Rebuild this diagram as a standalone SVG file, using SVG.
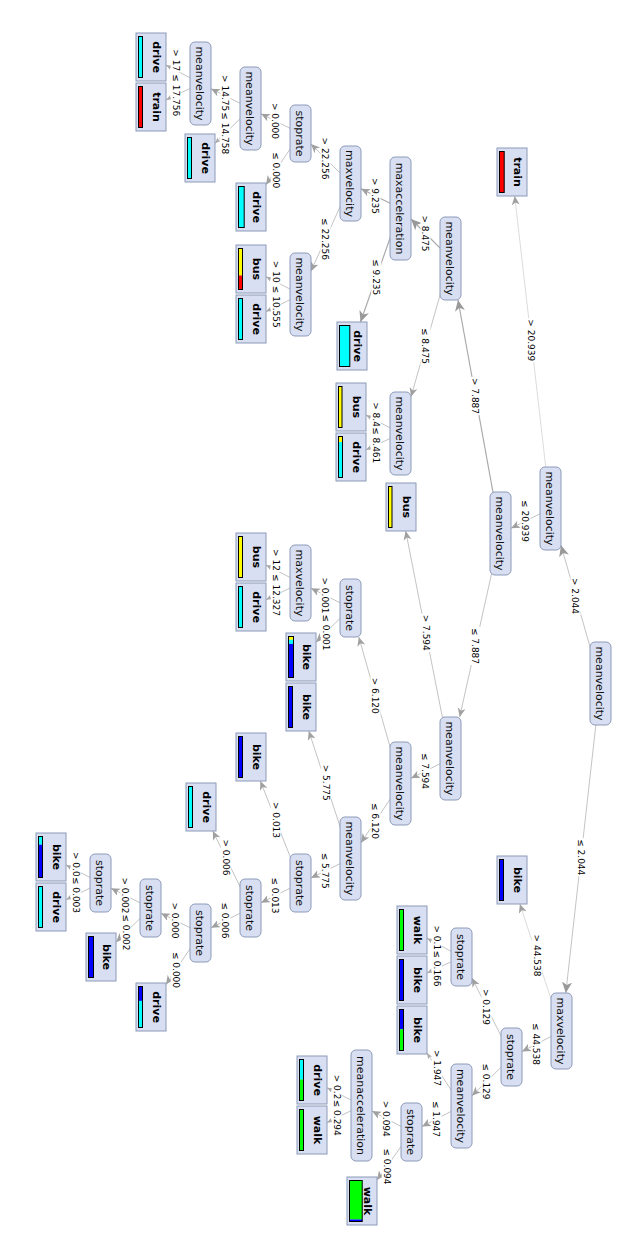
<svg xmlns="http://www.w3.org/2000/svg" width="630" height="1260" viewBox="0 0 630 1260">
<defs>
<style>
.n rect{fill:#d8dff2;stroke:#8c9ab8;stroke-width:1}
.n text{font-family:"DejaVu Sans",sans-serif;font-size:11px;fill:#111;text-anchor:middle}
.lf .box{fill:#d8dff2;stroke:#8c9ab8;stroke-width:1}
.lf .bo{fill:none;stroke:#000;stroke-width:1}
.lf text{font-family:"DejaVu Sans",sans-serif;font-size:11px;font-weight:bold;fill:#000;text-anchor:middle}
.e line{stroke:#c4c4c4;stroke-width:1;fill:none}
.e line.h{stroke:#a8a8a8;stroke-width:1.15}
.e line.f{stroke:#dcdcdc}
.lb rect{fill:#fff}
.lb text{font-family:"DejaVu Sans",sans-serif;font-size:9px;fill:#000;text-anchor:middle}
.lb text.s{text-anchor:start}
.bk{fill:#0000ff}.bu{fill:#ffff00}.dr{fill:#00ffff}.tr{fill:#ff0000}.wa{fill:#00ff00}
</style>
<marker id="mL" markerUnits="userSpaceOnUse" markerWidth="12" markerHeight="11" refX="11" refY="5" orient="auto"><path d="M0,0 L11,5 L0,10 L3,5 z" fill="#999"/></marker>
<marker id="mM" markerUnits="userSpaceOnUse" markerWidth="10" markerHeight="9" refX="9" refY="4" orient="auto"><path d="M0,0 L9,4 L0,8 L2.5,4 z" fill="#a0a0a0"/></marker>
<marker id="mS" markerUnits="userSpaceOnUse" markerWidth="7" markerHeight="6" refX="6" refY="2.5" orient="auto"><path d="M0,0 L6,2.5 L0,5 L1.5,2.5 z" fill="#aaa"/></marker>
</defs>
<g transform="translate(630,0) rotate(90)">
<g id="connectors" class="e">
<line x1="683.5" y1="29.5" x2="545.25" y2="69" marker-end="url(#mL)"/>
<line x1="683.5" y1="29.5" x2="993" y2="64.2" marker-end="url(#mL)"/>
<line class="f" x1="508.5" y1="79.5" x2="196" y2="115.3" marker-end="url(#mM)"/>
<line x1="508.5" y1="79.5" x2="528.25" y2="119" marker-end="url(#mM)"/>
<line class="h" x1="533.5" y1="129.5" x2="300" y2="172" marker-end="url(#mL)"/>
<line x1="533.5" y1="129.5" x2="717" y2="170.3" marker-end="url(#mM)"/>
<line class="h" x1="258.5" y1="179.5" x2="219" y2="219" marker-end="url(#mL)"/>
<line x1="258.5" y1="179.5" x2="396.75" y2="219" marker-end="url(#mM)"/>
<line class="h" x1="208.5" y1="229.5" x2="188.75" y2="269" marker-end="url(#mM)"/>
<line class="h" x1="208.5" y1="229.5" x2="322" y2="269.5" marker-end="url(#mL)"/>
<line x1="183.5" y1="279.5" x2="144" y2="319" marker-end="url(#mM)"/>
<line x1="183.5" y1="279.5" x2="271.2" y2="319" marker-end="url(#mM)"/>
<line x1="133.5" y1="329.5" x2="113.75" y2="369" marker-end="url(#mM)"/>
<line x1="133.5" y1="329.5" x2="184.7" y2="364" marker-end="url(#mM)"/>
<line x1="108.5" y1="379.5" x2="88.75" y2="419" marker-end="url(#mM)"/>
<line x1="108.5" y1="379.5" x2="143.3" y2="415" marker-end="url(#mS)"/>
<line x1="83.5" y1="429.5" x2="65" y2="464" marker-end="url(#mS)"/>
<line x1="83.5" y1="429.5" x2="99.9" y2="464" marker-end="url(#mS)"/>
<line x1="294.5" y1="329.5" x2="276.7" y2="364" marker-end="url(#mS)"/>
<line x1="294.5" y1="329.5" x2="311.6" y2="364" marker-end="url(#mS)"/>
<line x1="433.5" y1="229.5" x2="415" y2="264" marker-end="url(#mS)"/>
<line x1="433.5" y1="229.5" x2="449.9" y2="264" marker-end="url(#mS)"/>
<line x1="758.5" y1="179.5" x2="531" y2="224.3" marker-end="url(#mM)"/>
<line x1="758.5" y1="179.5" x2="778.25" y2="219" marker-end="url(#mM)"/>
<line x1="783.5" y1="229.5" x2="637" y2="271.2" marker-end="url(#mM)"/>
<line x1="783.5" y1="229.5" x2="842.75" y2="269" marker-end="url(#mM)"/>
<line x1="608" y1="279.5" x2="588.25" y2="319" marker-end="url(#mM)"/>
<line x1="608" y1="279.5" x2="642.2" y2="314" marker-end="url(#mM)"/>
<line x1="583" y1="329.5" x2="564.9" y2="364" marker-end="url(#mS)"/>
<line x1="583" y1="329.5" x2="599.7" y2="364" marker-end="url(#mS)"/>
<line x1="858.5" y1="279.5" x2="731" y2="321.2" marker-end="url(#mM)"/>
<line x1="858.5" y1="279.5" x2="877.9" y2="319" marker-end="url(#mM)"/>
<line x1="883" y1="329.5" x2="781" y2="369.6" marker-end="url(#mM)"/>
<line x1="883" y1="329.5" x2="902.75" y2="369" marker-end="url(#mM)"/>
<line x1="908" y1="379.5" x2="831" y2="417.2" marker-end="url(#mM)"/>
<line x1="908" y1="379.5" x2="927.75" y2="419" marker-end="url(#mM)"/>
<line x1="933" y1="429.5" x2="913.25" y2="469" marker-end="url(#mM)"/>
<line x1="933" y1="429.5" x2="984.6" y2="464" marker-end="url(#mM)"/>
<line x1="908" y1="479.5" x2="888.25" y2="519" marker-end="url(#mM)"/>
<line x1="908" y1="479.5" x2="942.2" y2="514" marker-end="url(#mM)"/>
<line x1="883" y1="529.5" x2="864.9" y2="564" marker-end="url(#mS)"/>
<line x1="883" y1="529.5" x2="899.7" y2="564" marker-end="url(#mS)"/>
<line class="f" x1="1031" y1="68.5" x2="904" y2="110.1" marker-end="url(#mM)"/>
<line x1="1031" y1="68.5" x2="1051.5" y2="108" marker-end="url(#mM)"/>
<line x1="1057" y1="118.5" x2="978" y2="158" marker-end="url(#mM)"/>
<line x1="1057" y1="118.5" x2="1095.7" y2="158" marker-end="url(#mM)"/>
<line x1="957" y1="168.5" x2="938.2" y2="203" marker-end="url(#mS)"/>
<line x1="957" y1="168.5" x2="973" y2="203" marker-end="url(#mS)"/>
<line x1="1106" y1="168.5" x2="1053" y2="203" marker-end="url(#mS)"/>
<line x1="1106" y1="168.5" x2="1126.5" y2="208" marker-end="url(#mM)"/>
<line x1="1132" y1="218.5" x2="1111.1" y2="258" marker-end="url(#mM)"/>
<line x1="1132" y1="218.5" x2="1180.1" y2="253" marker-end="url(#mM)"/>
<line x1="1105.5" y1="268.5" x2="1087.7" y2="303" marker-end="url(#mS)"/>
<line x1="1105.5" y1="268.5" x2="1122.6" y2="303" marker-end="url(#mS)"/>
<g class="lb">
<rect x="576.9" y="49.5" width="38.2" height="10"/><text x="596" y="57.7">&gt; 2.044</text>
<rect x="838.15" y="44" width="38.2" height="10"/><text x="857.25" y="52.2">≤ 2.044</text>
<rect x="318.3" y="93.75" width="43.9" height="10"/><text x="340.25" y="101.95">&gt; 20.939</text>
<rect x="499.05" y="99.5" width="43.9" height="10"/><text x="521" y="107.7">≤ 20.939</text>
<rect x="376.9" y="149.5" width="38.2" height="10"/><text x="396" y="157.7">&gt; 7.887</text>
<rect x="626.9" y="149.5" width="38.2" height="10"/><text x="646" y="157.7">≤ 7.887</text>
<rect x="214.4" y="199.5" width="38.2" height="10"/><text x="233.5" y="207.7">&gt; 8.475</text>
<rect x="326.9" y="199.5" width="38.2" height="10"/><text x="346" y="207.7">≤ 8.475</text>
<rect x="176.9" y="249.5" width="38.2" height="10"/><text x="196" y="257.7">&gt; 9.235</text>
<rect x="258.15" y="248.75" width="38.2" height="10"/><text x="277.25" y="256.95">≤ 9.235</text>
<rect x="136.55" y="299.5" width="43.9" height="10"/><text x="158.5" y="307.7">&gt; 22.256</text>
<rect x="217.05" y="299.5" width="43.9" height="10"/><text x="239" y="307.7">≤ 22.256</text>
<rect x="101.9" y="349.5" width="38.2" height="10"/><text x="121" y="357.7">&gt; 0.000</text>
<rect x="151.15" y="349.25" width="38.2" height="10"/><text x="170.25" y="357.45">≤ 0.000</text>
<rect x="74.05" y="399.5" width="38.2" height="10"/><text class="s" x="75.05" y="407.7">&gt; 14.75</text>
<rect x="111.3" y="399.75" width="43.9" height="10"/><text x="133.25" y="407.95">≤ 14.758</text>
<rect x="48.3" y="449.25" width="23.9" height="10"/><text class="s" x="49.3" y="457.45">&gt; 17</text>
<rect x="73.3" y="449.25" width="43.9" height="10"/><text x="95.25" y="457.45">≤ 17.756</text>
<rect x="259.8" y="349.25" width="23.9" height="10"/><text class="s" x="260.8" y="357.45">&gt; 10</text>
<rect x="284.8" y="349.25" width="43.9" height="10"/><text x="306.75" y="357.45">≤ 10.555</text>
<rect x="401.15" y="249.25" width="26.7" height="10"/><text class="s" x="402.15" y="257.45">&gt; 8.4</text>
<rect x="426.15" y="249.25" width="38.2" height="10"/><text x="445.25" y="257.45">≤ 8.461</text>
<rect x="613.65" y="199.25" width="38.2" height="10"/><text x="632.75" y="207.45">&gt; 7.594</text>
<rect x="751.9" y="199.5" width="38.2" height="10"/><text x="771" y="207.7">≤ 7.594</text>
<rect x="676.65" y="249.5" width="38.2" height="10"/><text x="695.75" y="257.7">&gt; 6.120</text>
<rect x="801.9" y="249.5" width="38.2" height="10"/><text x="821" y="257.7">≤ 6.120</text>
<rect x="576.4" y="299.5" width="38.2" height="10"/><text x="595.5" y="307.7">&gt; 0.001</text>
<rect x="613.4" y="299.25" width="38.2" height="10"/><text x="632.5" y="307.45">≤ 0.001</text>
<rect x="548.05" y="349.25" width="23.9" height="10"/><text class="s" x="549.05" y="357.45">&gt; 12</text>
<rect x="573.05" y="349.25" width="43.9" height="10"/><text x="595" y="357.45">≤ 12.327</text>
<rect x="763.65" y="299.25" width="38.2" height="10"/><text x="782.75" y="307.45">&gt; 5.775</text>
<rect x="851.65" y="299.5" width="38.2" height="10"/><text x="870.75" y="307.7">≤ 5.775</text>
<rect x="800.9" y="349.25" width="38.2" height="10"/><text x="820" y="357.45">&gt; 0.013</text>
<rect x="876.4" y="349.5" width="38.2" height="10"/><text x="895.5" y="357.7">≤ 0.013</text>
<rect x="838.4" y="399.25" width="38.2" height="10"/><text x="857.5" y="407.45">&gt; 0.006</text>
<rect x="901.4" y="399.5" width="38.2" height="10"/><text x="920.5" y="407.7">≤ 0.006</text>
<rect x="901.4" y="449.5" width="38.2" height="10"/><text x="920.5" y="457.7">&gt; 0.000</text>
<rect x="950.9" y="449.25" width="38.2" height="10"/><text x="970" y="457.45">≤ 0.000</text>
<rect x="876.4" y="499.5" width="38.2" height="10"/><text x="895.5" y="507.7">&gt; 0.002</text>
<rect x="913.4" y="499.25" width="38.2" height="10"/><text x="932.5" y="507.45">≤ 0.002</text>
<rect x="850.9" y="549.25" width="26.7" height="10"/><text class="s" x="851.9" y="557.45">&gt; 0.0</text>
<rect x="875.9" y="549.25" width="38.2" height="10"/><text x="895" y="557.45">≤ 0.003</text>
<rect x="933.55" y="88.25" width="43.9" height="10"/><text x="955.5" y="96.45">&gt; 44.538</text>
<rect x="1022.05" y="88.5" width="43.9" height="10"/><text x="1044" y="96.7">≤ 44.538</text>
<rect x="987.9" y="138.5" width="38.2" height="10"/><text x="1007" y="146.7">&gt; 0.129</text>
<rect x="1062.4" y="138.5" width="38.2" height="10"/><text x="1081.5" y="146.7">≤ 0.129</text>
<rect x="924.4" y="188.25" width="26.7" height="10"/><text class="s" x="925.4" y="196.45">&gt; 0.1</text>
<rect x="949.4" y="188.25" width="38.2" height="10"/><text x="968.5" y="196.45">≤ 0.166</text>
<rect x="1048.9" y="188.25" width="38.2" height="10"/><text x="1068" y="196.45">&gt; 1.947</text>
<rect x="1099.9" y="188.5" width="38.2" height="10"/><text x="1119" y="196.7">≤ 1.947</text>
<rect x="1099.65" y="238.5" width="38.2" height="10"/><text x="1118.75" y="246.7">&gt; 0.094</text>
<rect x="1147.4" y="238.25" width="38.2" height="10"/><text x="1166.5" y="246.45">≤ 0.094</text>
<rect x="1073.65" y="288.25" width="26.7" height="10"/><text class="s" x="1074.65" y="296.45">&gt; 0.2</text>
<rect x="1098.65" y="288.25" width="38.2" height="10"/><text x="1117.75" y="296.45">≤ 0.294</text>
</g>
</g>
<g id="n0" class="n"><rect x="642" y="19" width="83" height="21" rx="5"/><text x="683.5" y="34">meanvelocity</text></g>
<g id="n1" class="n"><rect x="467" y="69" width="83" height="21" rx="5"/><text x="508.5" y="84">meanvelocity</text></g>
<g id="n2" class="n"><rect x="492" y="119" width="83" height="21" rx="5"/><text x="533.5" y="134">meanvelocity</text></g>
<g id="n3" class="n"><rect x="217" y="169" width="83" height="21" rx="5"/><text x="258.5" y="184">meanvelocity</text></g>
<g id="n4" class="n"><rect x="157" y="219" width="103" height="21" rx="5"/><text x="208.5" y="234">maxacceleration</text></g>
<g id="n5" class="n"><rect x="146" y="269" width="75" height="21" rx="5"/><text x="183.5" y="284">maxvelocity</text></g>
<g id="n6" class="n"><rect x="105" y="319" width="57" height="21" rx="5"/><text x="133.5" y="334">stoprate</text></g>
<g id="n7" class="n"><rect x="67" y="369" width="83" height="21" rx="5"/><text x="108.5" y="384">meanvelocity</text></g>
<g id="n8" class="n"><rect x="42" y="419" width="83" height="21" rx="5"/><text x="83.5" y="434">meanvelocity</text></g>
<g id="n9" class="n"><rect x="253" y="319" width="83" height="21" rx="5"/><text x="294.5" y="334">meanvelocity</text></g>
<g id="n10" class="n"><rect x="392" y="219" width="83" height="21" rx="5"/><text x="433.5" y="234">meanvelocity</text></g>
<g id="n11" class="n"><rect x="717" y="169" width="83" height="21" rx="5"/><text x="758.5" y="184">meanvelocity</text></g>
<g id="n12" class="n"><rect x="742" y="219" width="83" height="21" rx="5"/><text x="783.5" y="234">meanvelocity</text></g>
<g id="n13" class="n"><rect x="579" y="269" width="58" height="21" rx="5"/><text x="608" y="284">stoprate</text></g>
<g id="n14" class="n"><rect x="545" y="319" width="76" height="21" rx="5"/><text x="583" y="334">maxvelocity</text></g>
<g id="n15" class="n"><rect x="817" y="269" width="83" height="21" rx="5"/><text x="858.5" y="284">meanvelocity</text></g>
<g id="n16" class="n"><rect x="854" y="319" width="58" height="21" rx="5"/><text x="883" y="334">stoprate</text></g>
<g id="n17" class="n"><rect x="879" y="369" width="58" height="21" rx="5"/><text x="908" y="384">stoprate</text></g>
<g id="n18" class="n"><rect x="904" y="419" width="58" height="21" rx="5"/><text x="933" y="434">stoprate</text></g>
<g id="n19" class="n"><rect x="879" y="469" width="58" height="21" rx="5"/><text x="908" y="484">stoprate</text></g>
<g id="n20" class="n"><rect x="854" y="519" width="58" height="21" rx="5"/><text x="883" y="534">stoprate</text></g>
<g id="n21" class="n"><rect x="993" y="58" width="76" height="21" rx="5"/><text x="1031" y="73">maxvelocity</text></g>
<g id="n22" class="n"><rect x="1028" y="108" width="58" height="21" rx="5"/><text x="1057" y="123">stoprate</text></g>
<g id="n23" class="n"><rect x="928" y="158" width="58" height="21" rx="5"/><text x="957" y="173">stoprate</text></g>
<g id="n24" class="n"><rect x="1064" y="158" width="84" height="21" rx="5"/><text x="1106" y="173">meanvelocity</text></g>
<g id="n25" class="n"><rect x="1103" y="208" width="58" height="21" rx="5"/><text x="1132" y="223">stoprate</text></g>
<g id="n26" class="n"><rect x="1050" y="258" width="111" height="21" rx="5"/><text x="1105.5" y="273">meanacceleration</text></g>
<g id="l1" class="lf"><rect class="box" x="148" y="103" width="48" height="30"/><rect class="tr" x="151.5" y="125.8" width="41" height="4.7"/><rect class="bo" x="151.5" y="125.8" width="41" height="4.7"/><text x="172" y="116.2">train</text></g>
<g id="l2" class="lf"><rect class="box" x="33" y="464" width="48" height="30"/><rect class="dr" x="36.5" y="487.5" width="41" height="4"/><rect class="bo" x="36.5" y="487.5" width="41" height="4"/><text x="57" y="477.2">drive</text></g>
<g id="l3" class="lf"><rect class="box" x="83" y="464" width="48" height="30"/><rect class="tr" x="86.5" y="487.5" width="41" height="4"/><rect class="bo" x="86.5" y="487.5" width="41" height="4"/><text x="107" y="477.2">train</text></g>
<g id="l4" class="lf"><rect class="box" x="134" y="415" width="48" height="30"/><rect class="dr" x="137.5" y="438.5" width="41" height="4"/><rect class="bo" x="137.5" y="438.5" width="41" height="4"/><text x="158" y="428.2">drive</text></g>
<g id="l5" class="lf"><rect class="box" x="183" y="364" width="48" height="30"/><rect class="dr" x="186.5" y="385.8" width="41" height="5.7"/><rect class="bo" x="186.5" y="385.8" width="41" height="5.7"/><text x="207" y="377.2">drive</text></g>
<g id="l6" class="lf"><rect class="box" x="245" y="364" width="48" height="30"/><rect class="bu" x="248.5" y="387.5" width="27" height="4"/><rect class="tr" x="275.5" y="387.5" width="14" height="4"/><rect class="bo" x="248.5" y="387.5" width="41" height="4"/><text x="269" y="377.2">bus</text></g>
<g id="l7" class="lf"><rect class="box" x="295" y="364" width="48" height="30"/><rect class="dr" x="298.5" y="387.5" width="41" height="4"/><rect class="bo" x="298.5" y="387.5" width="41" height="4"/><text x="319" y="377.2">drive</text></g>
<g id="l8" class="lf"><rect class="box" x="322" y="263" width="48" height="30"/><rect class="dr" x="325.5" y="280.2" width="41" height="10.3"/><rect class="bo" x="325.5" y="280.2" width="41" height="10.3"/><text x="346" y="276.2">drive</text></g>
<g id="l9" class="lf"><rect class="box" x="383" y="264" width="48" height="30"/><rect class="bu" x="386.5" y="288" width="41" height="3.5"/><rect class="bo" x="386.5" y="288" width="41" height="3.5"/><text x="407" y="277.2">bus</text></g>
<g id="l10" class="lf"><rect class="box" x="433" y="264" width="48" height="30"/><rect class="bu" x="436.5" y="287.5" width="5.5" height="4"/><rect class="dr" x="442" y="287.5" width="35.5" height="4"/><rect class="bo" x="436.5" y="287.5" width="41" height="4"/><text x="457" y="277.2">drive</text></g>
<g id="l11" class="lf"><rect class="box" x="483" y="214" width="48" height="30"/><rect class="bu" x="486.5" y="238" width="41" height="3.5"/><rect class="bo" x="486.5" y="238" width="41" height="3.5"/><text x="507" y="227.2">bus</text></g>
<g id="l12" class="lf"><rect class="box" x="533" y="364" width="48" height="30"/><rect class="bu" x="536.5" y="387.5" width="41" height="4"/><rect class="bo" x="536.5" y="387.5" width="41" height="4"/><text x="557" y="377.2">bus</text></g>
<g id="l13" class="lf"><rect class="box" x="583" y="364" width="48" height="30"/><rect class="dr" x="586.5" y="387.5" width="41" height="4"/><rect class="bo" x="586.5" y="387.5" width="41" height="4"/><text x="607" y="377.2">drive</text></g>
<g id="l14" class="lf"><rect class="box" x="633" y="314" width="48" height="30"/><rect class="bu" x="636.5" y="336.5" width="3.3" height="5"/><rect class="dr" x="639.8" y="336.5" width="4.1" height="5"/><rect class="bk" x="643.9" y="336.5" width="33.6" height="5"/><rect class="bo" x="636.5" y="336.5" width="41" height="5"/><text x="657" y="327.2">bike</text></g>
<g id="l15" class="lf"><rect class="box" x="683" y="314" width="48" height="30"/><rect class="bk" x="686.5" y="337.5" width="41" height="4"/><rect class="bo" x="686.5" y="337.5" width="41" height="4"/><text x="707" y="327.2">bike</text></g>
<g id="l16" class="lf"><rect class="box" x="733" y="364" width="48" height="30"/><rect class="bk" x="736.5" y="387.5" width="41" height="4"/><rect class="bo" x="736.5" y="387.5" width="41" height="4"/><text x="757" y="377.2">bike</text></g>
<g id="l17" class="lf"><rect class="box" x="783" y="414" width="48" height="30"/><rect class="dr" x="786.5" y="437.5" width="41" height="4"/><rect class="bo" x="786.5" y="437.5" width="41" height="4"/><text x="807" y="427.2">drive</text></g>
<g id="l18" class="lf"><rect class="box" x="833" y="564" width="48" height="30"/><rect class="dr" x="836.5" y="587.5" width="8.2" height="4"/><rect class="bk" x="844.7" y="587.5" width="32.8" height="4"/><rect class="bo" x="836.5" y="587.5" width="41" height="4"/><text x="857" y="577.2">bike</text></g>
<g id="l19" class="lf"><rect class="box" x="883" y="564" width="48" height="30"/><rect class="dr" x="886.5" y="587.5" width="41" height="4"/><rect class="bo" x="886.5" y="587.5" width="41" height="4"/><text x="907" y="577.2">drive</text></g>
<g id="l20" class="lf"><rect class="box" x="933" y="514" width="48" height="30"/><rect class="bk" x="936.5" y="536.5" width="41" height="5"/><rect class="bo" x="936.5" y="536.5" width="41" height="5"/><text x="957" y="527.2">bike</text></g>
<g id="l21" class="lf"><rect class="box" x="983" y="464" width="48" height="30"/><rect class="bk" x="986.5" y="487.5" width="14.4" height="4"/><rect class="dr" x="1000.9" y="487.5" width="26.6" height="4"/><rect class="bo" x="986.5" y="487.5" width="41" height="4"/><text x="1007" y="477.2">drive</text></g>
<g id="l22" class="lf"><rect class="box" x="856" y="103" width="48" height="30"/><rect class="bk" x="859.5" y="126.5" width="41" height="4"/><rect class="bo" x="859.5" y="126.5" width="41" height="4"/><text x="880" y="116.2">bike</text></g>
<g id="l23" class="lf"><rect class="box" x="906" y="203" width="48" height="30"/><rect class="wa" x="909.5" y="226.5" width="41" height="4"/><rect class="bo" x="909.5" y="226.5" width="41" height="4"/><text x="930" y="216.2">walk</text></g>
<g id="l24" class="lf"><rect class="box" x="956" y="203" width="48" height="30"/><rect class="bk" x="959.5" y="226.5" width="41" height="4"/><rect class="bo" x="959.5" y="226.5" width="41" height="4"/><text x="980" y="216.2">bike</text></g>
<g id="l25" class="lf"><rect class="box" x="1006" y="203" width="48" height="30"/><rect class="bk" x="1009.5" y="226.5" width="19.7" height="4"/><rect class="wa" x="1029.2" y="226.5" width="21.3" height="4"/><rect class="bo" x="1009.5" y="226.5" width="41" height="4"/><text x="1030" y="216.2">bike</text></g>
<g id="l26" class="lf"><rect class="box" x="1056" y="303" width="48" height="30"/><rect class="dr" x="1059.5" y="326.5" width="20" height="4"/><rect class="wa" x="1079.5" y="326.5" width="21" height="4"/><rect class="bo" x="1059.5" y="326.5" width="41" height="4"/><text x="1080" y="316.2">drive</text></g>
<g id="l27" class="lf"><rect class="box" x="1106" y="303" width="48" height="30"/><rect class="wa" x="1109.5" y="326.5" width="41" height="4"/><rect class="bo" x="1109.5" y="326.5" width="41" height="4"/><text x="1130" y="316.2">walk</text></g>
<g id="l28" class="lf"><rect class="box" x="1177" y="253" width="48" height="30"/><rect class="wa" x="1180.5" y="267.8" width="39" height="12.7"/><rect class="bk" x="1219.5" y="267.8" width="2" height="12.7"/><rect class="bo" x="1180.5" y="267.8" width="41" height="12.7"/><text x="1201" y="266.2">walk</text></g>
</g>
</svg>
